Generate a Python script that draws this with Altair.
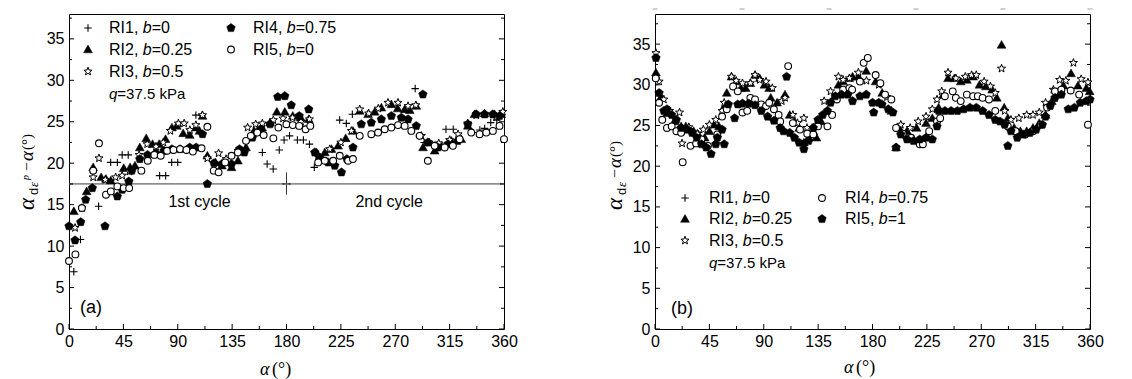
import math
import altair as alt
import pandas as pd

# ---------------- data: panel (a) ----------------
A_RI1 = [(4, 6.9), (9.5, 10.8), (24.5, 14.8), (34.5, 20.1), (40, 20.1), (44, 21.0), (49, 21.0),
         (75, 18.5), (80, 18.5), (85, 20.1), (90, 20.1), (105, 25.8), (110, 25.8), (160, 21.3),
         (164, 19.9), (169, 19.3), (174, 21.6), (178, 22.8), (182.5, 23.3), (189, 22.8), (194, 22.8),
         (199, 22.3), (203, 19.5), (224, 25.2), (229.5, 24.8), (234.5, 25.9), (286.5, 29.0), (290, 23.3),
         (294, 22.5), (297, 22.5), (312, 24.1), (318, 24.1), (334, 23.7), (340, 24.0), (344, 24.2),
         (349, 24.9), (354, 25.2)]
A_RI2 = [(4, 14.2), (14.6, 16.6), (20, 19.5), (26.6, 18.3), (30.6, 18.1), (34.6, 17.9), (45.3, 19.4),
         (50.6, 19.5), (54.6, 19.7), (58.6, 21.9), (63.9, 23.0), (69.2, 22.3), (74.6, 22.3), (79.9, 22.9),
         (85.2, 24.3), (89.2, 24.5), (94.5, 23.6), (99.9, 23.4), (105.2, 24.3), (108, 23.9), (110.5, 25.7),
         (114.5, 20.9), (121.2, 20.1), (126.5, 19.7), (134.5, 19.5), (139.8, 20.3), (146.5, 21.9),
         (153.1, 23.9), (159.8, 24.3), (166.4, 24.9), (172, 26.2), (178.6, 26.2), (185.2, 25.7),
         (191.8, 25.5), (198.4, 25.3), (204.8, 21.3), (211.7, 21.3), (217.2, 21.7), (222.7, 22.1),
         (229, 23.0), (235, 23.9), (240.6, 26.3), (247.5, 25.9), (253, 26.2), (258.5, 26.7), (266.8, 27.1),
         (272, 26.6), (277.8, 26.5), (282, 26.4), (287.4, 26.9), (293, 21.9), (302.6, 21.5), (308.1, 22.1),
         (316.4, 22.7), (324.6, 22.9), (330.1, 24.5), (335.6, 25.9), (343.9, 26.0), (352.2, 25.9),
         (357.7, 25.9)]
A_RI3 = [(5, 12.2), (10.7, 14.6), (20, 18.3), (24.8, 20.6), (30, 18.0), (38.6, 18.3), (44, 18.5),
         (50, 19.0), (58, 21.0), (64.7, 22.3), (72, 22.0), (78, 22.5), (83.9, 23.9), (90.5, 24.8),
         (95.3, 24.8), (100, 24.0), (105, 24.6), (110.5, 25.8), (114.5, 20.6), (123.8, 21.2), (130, 20.5),
         (140, 21.5), (147.8, 24.3), (154.5, 24.7), (160, 24.8), (169.1, 25.2), (177.1, 25.4), (185, 25.5),
         (192, 25.0), (199, 25.3), (206, 20.8), (215.8, 21.7), (225, 22.5), (233.7, 23.9), (240.6, 26.5),
         (248, 26.0), (256, 26.6), (264, 27.3), (272.3, 27.3), (280.6, 26.9), (287, 27.0), (291.6, 23.3),
         (298, 22.5), (306, 22.4), (315, 22.8), (322, 23.5), (330, 24.8), (337, 25.8), (344, 25.9),
         (353.6, 25.6), (359, 26.2)]
A_RI4 = [(0, 12.4), (5, 10.7), (9.7, 12.9), (13.8, 15.6), (19.3, 17.0), (29.8, 12.4), (40, 16.0),
         (44, 16.8), (49.5, 17.8), (52, 19.1), (58.6, 20.5), (65, 21.0), (72, 21.2), (78.6, 21.5),
         (85.2, 21.7), (91.9, 21.7), (99.9, 21.9), (105.2, 21.9), (110.5, 23.5), (114.5, 17.5), (120, 20.0),
         (126.5, 19.9), (134.5, 19.9), (141.1, 21.7), (145.1, 21.3), (151.8, 23.1), (158.5, 24.1),
         (166.4, 24.7), (172.8, 28.0), (178.6, 28.1), (183.9, 27.0), (190.5, 25.7), (198.4, 26.5),
         (203.4, 21.3), (207.5, 20.7), (214.4, 20.1), (219.9, 19.7), (225.5, 18.9), (230, 20.5), (235, 21.9),
         (241.9, 24.7), (250.2, 24.9), (258.5, 25.3), (266.8, 25.7), (275, 25.5), (280.6, 25.3),
         (287.4, 24.5), (292.9, 28.3), (297, 22.5), (305.3, 21.9), (313.6, 22.3), (321.9, 22.7),
         (330.1, 24.7), (337, 25.9), (343.9, 25.9), (350.8, 25.9), (356.3, 25.7)]
A_RI5 = [(0, 8.2), (5.3, 9.0), (10.7, 14.6), (20, 19.1), (24.8, 22.4), (30.6, 16.2), (34.6, 16.6),
         (40, 17.2), (45.3, 17.0), (49.8, 17.0), (59.9, 19.1), (65.2, 20.3), (70.6, 21.0), (75.9, 20.9),
         (81.2, 21.5), (86.5, 21.6), (91.9, 21.7), (97.2, 21.6), (102.5, 21.4), (109.7, 21.8), (114.5, 24.4),
         (119.8, 19.1), (123.8, 18.9), (129.2, 20.1), (134.5, 20.9), (139.8, 21.3), (146.5, 22.7),
         (150.5, 23.3), (155.8, 23.7), (161.1, 23.4), (169.1, 23.0), (173.3, 24.3), (179.9, 24.7),
         (185.2, 24.6), (190.5, 24.5), (195.8, 24.1), (199.7, 24.5), (206.2, 20.1), (211.7, 20.3),
         (218.6, 20.3), (224.1, 20.9), (231, 20.3), (235, 20.5), (240.6, 23.3), (250.2, 23.5), (255.8, 23.7),
         (261.3, 24.1), (266.8, 24.3), (272.3, 24.6), (277.8, 24.5), (283.3, 23.9), (290.2, 23.3),
         (297, 20.3), (302.6, 22.1), (310.9, 21.9), (317.7, 22.1), (323.3, 22.9), (332.9, 23.7),
         (339.8, 23.5), (345.3, 23.7), (350.8, 23.9), (356.3, 24.5), (360, 22.9)]

# ---------------- data: panel (b) ----------------
B_RI2 = [(0.8, 31.5), (5, 28.5), (10, 26.5), (16, 25.5), (21.6, 24.9), (25.5, 24.9), (28.1, 24.7),
         (32, 24.3), (35.9, 23.9), (41.1, 23.5), (45, 24.3), (49, 25.1), (52.9, 24.9), (56.8, 27.2),
         (59.4, 29.0), (63.3, 31.0), (67.2, 30.4), (71.1, 29.6), (75, 29.6), (78.9, 30.2), (82.8, 31.2),
         (86.7, 30.8), (90.6, 30.0), (94.5, 29.6), (95.8, 28.4), (101, 27.8), (107.6, 28.8), (111.5, 26.3),
         (115.4, 25.5), (119.3, 24.7), (123.2, 22.9), (127.1, 23.5), (131, 24.3), (133.6, 23.5),
         (137.5, 25.5), (142.7, 26.8), (147.9, 28.4), (151.8, 30.0), (155.7, 30.4), (160.9, 30.8),
         (163.5, 31.0), (168.3, 31.0), (174.8, 31.7), (182.6, 30.4), (188, 29.0), (195.6, 26.8),
         (199.5, 22.3), (202.1, 24.7), (208.6, 24.3), (216.5, 24.7), (224.3, 25.3), (229.5, 25.9),
         (234.7, 27.2), (238.6, 28.8), (242.5, 30.8), (247.7, 30.8), (253, 30.4), (258.1, 30.6),
         (263.3, 31.0), (268.5, 30.0), (273.8, 29.8), (279, 29.4), (282.9, 28.4), (286.8, 34.9),
         (289, 27.2), (292, 25.9), (297.2, 24.7), (302.4, 24.3), (307.6, 24.3), (312.8, 24.7), (318, 25.3),
         (323.2, 26.3), (328.4, 28.0), (333.6, 29.0), (338, 29.9), (344.3, 31.4), (350, 29.9), (357, 29.6),
         (359.7, 29.2)]
B_RI3 = [(0.8, 33.9), (3.4, 30.4), (7.3, 28.2), (12, 26.8), (20.3, 26.6), (22.4, 22.8), (28, 24.8),
         (35, 24.0), (40, 24.5), (45, 25.1), (50.3, 25.7), (55.5, 26.8), (57.3, 27.8), (63.3, 31.0),
         (67.2, 30.5), (72.4, 30.2), (78.9, 30.2), (82.8, 31.2), (86.7, 30.6), (91.9, 30.4), (97.1, 29.6),
         (104.9, 28.0), (107.6, 28.4), (114.1, 26.3), (117.9, 25.3), (123.2, 25.9), (125.8, 24.7),
         (133, 25.0), (140, 28.0), (145.3, 29.2), (151.8, 31.0), (155.7, 30.6), (160.9, 30.8),
         (168.3, 31.5), (175, 30.5), (185.2, 30.0), (192, 28.5), (203.4, 25.1), (211.2, 24.7),
         (217.8, 25.5), (224.3, 26.1), (229.5, 27.0), (233.4, 28.2), (237.3, 29.2), (242.5, 31.5),
         (249, 30.8), (256.8, 31.0), (262, 31.2), (265.9, 31.2), (272.4, 30.4), (277.6, 29.8),
         (281.6, 29.0), (286.8, 32.0), (289.4, 26.8), (294.6, 25.7), (301.1, 25.9), (307.6, 26.3),
         (312.8, 26.3), (318, 26.6), (323.2, 27.8), (329.7, 29.4), (334.9, 30.6), (340, 30.5),
         (346.3, 32.7), (352.7, 30.7), (358.3, 30.3)]
B_RI4 = [(0.6, 30.8), (3.4, 27.8), (6, 25.7), (9.9, 24.7), (13.8, 24.9), (17.7, 24.3), (21.6, 24.1),
         (22.9, 20.5), (29.4, 22.5), (34, 22.8), (38.5, 23.3), (43.8, 22.5), (51.6, 23.9), (55.5, 26.1),
         (59.4, 27.0), (64.6, 29.8), (68.5, 29.2), (72.4, 26.6), (76.3, 26.8), (78.9, 28.4), (82.8, 28.2),
         (88, 27.6), (91.9, 27.4), (94.5, 27.8), (98.4, 27.0), (102.3, 26.3), (103.6, 25.5), (110.2, 32.3),
         (114.1, 25.3), (120, 24.5), (126, 24.0), (131, 23.9), (134.9, 24.9), (142.7, 24.9), (146.6, 26.3),
         (150.5, 28.2), (155.7, 29.4), (160.9, 29.6), (163.1, 29.4), (169.6, 30.4), (172.7, 32.7),
         (176.1, 33.3), (182.6, 31.2), (186.5, 30.2), (190.4, 28.8), (195.6, 28.2), (199.5, 24.7),
         (205, 24.0), (212, 23.5), (219.1, 22.7), (221.7, 22.7), (226.9, 24.3), (233.4, 25.5), (236, 25.9),
         (239.9, 28.6), (246.4, 29.2), (249, 28.4), (253, 28.0), (258.1, 28.8), (263.3, 28.6),
         (267.2, 28.6), (271.1, 28.4), (276.4, 28.2), (281.6, 26.8), (292, 24.9), (298.5, 24.3),
         (306.3, 23.9), (312.8, 24.3), (319.3, 25.1), (324.5, 27.2), (331, 29.2), (336.3, 29.4),
         (344, 29.3), (351, 28.8), (358.3, 25.1)]
B_RI5 = [(0.8, 33.3), (3.4, 29.0), (7.3, 26.8), (9.9, 27.0), (13.8, 26.3), (17.7, 25.7), (21.6, 24.7),
         (26.8, 24.5), (30.7, 24.1), (34.6, 23.5), (38.5, 22.7), (42.4, 22.3), (46.4, 21.5), (50.3, 22.7),
         (51.6, 23.5), (55.5, 24.5), (57.3, 22.7), (60.7, 27.6), (65.9, 25.9), (68.5, 27.6), (72.4, 27.7),
         (77.6, 27.7), (82.8, 27.5), (88, 26.8), (93.2, 26.1), (98.4, 25.6), (103.6, 24.7), (106.3, 24.3),
         (108.9, 31.0), (111.5, 24.1), (115.4, 23.5), (119.3, 22.9), (123.2, 22.1), (127.1, 23.1),
         (131, 24.7), (134.9, 25.7), (138.8, 26.3), (142.7, 26.8), (145.3, 27.8), (149.2, 28.6),
         (154.4, 28.8), (159.6, 28.8), (163.5, 28.0), (169.6, 28.6), (174.8, 28.8), (180, 27.8),
         (181, 26.6), (185.2, 27.8), (187.8, 27.6), (193, 27.0), (196.9, 26.6), (199.5, 22.3),
         (203.4, 23.9), (208.6, 23.3), (213.9, 23.1), (219.1, 23.3), (224.3, 23.5), (229.5, 23.3),
         (233.4, 24.9), (234.7, 26.8), (239.9, 26.8), (245.1, 26.8), (250.3, 26.8), (255.5, 27.0),
         (260.7, 27.2), (265.9, 27.2), (271.1, 26.8), (276.4, 26.3), (281.6, 25.7), (285.5, 25.5),
         (289.4, 25.1), (292, 22.5), (294.6, 24.3), (299.8, 23.5), (305, 23.9), (310.2, 24.1),
         (315.4, 24.5), (320.6, 25.1), (323.2, 26.1), (327.1, 27.4), (331, 28.4), (336.3, 28.8),
         (342, 27.0), (347, 27.2), (352, 27.8), (357, 28.0), (360, 28.2)]

# ---------------- labels / ticks ----------------
X_MAJOR = [0, 45, 90, 135, 180, 225, 270, 315, 360]
X_MINOR = [22.5, 67.5, 112.5, 157.5, 202.5, 247.5, 292.5, 337.5]
Y_MAJOR = [0, 5, 10, 15, 20, 25, 30, 35]
Y_MINOR = [2.5, 7.5, 12.5, 17.5, 22.5, 27.5, 32.5, 37.5]
TOP_DASH = [0, 72, 144, 216, 288, 360]
LEG_NAMES = ["RI1, ", "RI2, ", "RI3, ", "RI4, ", "RI5, "]
LEG_B_A = ["=0", "=0.25", "=0.5", "=0.75", "=0"]
LEG_B_B = ["=0", "=0.25", "=0.5", "=0.75", "=1"]
Q_TEXT = "=37.5 kPa"
CYCLE_ALPHA = [0, 180, 360]
CYCLE_LEVEL = 17.5
CYCLE_TICK = [16.2, 18.9]
CYCLE_TEXT = ["1st cycle", "2nd cycle"]
CYCLE_TEXT_ALPHA = [108, 265]
CYCLE_TEXT_LEVEL = 15.3

# ---------------- styles ----------------
def poly_path(n, r_out, r_in=None, rot=-math.pi / 2):
    pts = []
    k = n * 2 if r_in else n
    for i in range(k):
        r = r_out if (r_in is None or i % 2 == 0) else r_in
        a = rot + i * 2 * math.pi / k
        pts.append((r * math.cos(a), r * math.sin(a)))
    return "M" + "L".join(f"{x:.3f},{y:.3f}" for x, y in pts) + "Z"

PLUS = "M-1,0L1,0M0,-1L0,1"
TRI = "M0,-1L1,0.75L-1,0.75Z"
STAR = poly_path(5, 1.0, 0.42)
PENT = poly_path(5, 1.0)
ARROW_R = "M0,0L-2,-0.55L-2,0.55Z"
ARROW_L = "M0,0L2,-0.55L2,0.55Z"

STYLE = {
    "plus": dict(shape=PLUS, size=56, filled=False, stroke="black", strokeWidth=1.1),
    "tri": dict(shape=TRI, size=78, filled=True, fill="black", stroke="black", strokeWidth=0.5),
    "star": dict(shape=STAR, size=72, filled=True, fill="white", stroke="black", strokeWidth=1),
    "pent": dict(shape=PENT, size=80, filled=True, fill="black", stroke="black", strokeWidth=0.5),
    "circ": dict(shape="circle", size=46, filled=True, fill="white", stroke="black", strokeWidth=1.1),
}

SANS = "Liberation Sans"
SERIF = "Liberation Serif"
W, H = 435, 315
ONE = pd.DataFrame({"k": [0]})


def pts_df(pairs):
    return pd.DataFrame(pairs, columns=["alpha", "value"])


def txt(x, y, s, size=16, font=SANS, style="normal", angle=0, align="left"):
    kw = dict(align=align, baseline="middle", font=font, fontSize=size, fontStyle=style,
              color="black", text=s)
    if angle:
        kw["angle"] = angle
    return alt.Chart(ONE).mark_text(**kw).encode(x=alt.value(x), y=alt.value(y))


def sym(x, y, key):
    st = dict(STYLE[key])
    return alt.Chart(ONE).mark_point(opacity=1, **st).encode(x=alt.value(x), y=alt.value(y))


def panel(series, ymax, legend, tag, ytitle, extras):
    xs = alt.Scale(domain=[0, 360], nice=False, zero=False)
    ys = alt.Scale(domain=[0, ymax], nice=False, zero=False)
    xax = alt.Axis(values=X_MAJOR, ticks=False, domain=False, grid=False, title=None,
                   labelFont=SANS, labelFontSize=16, labelColor="black", labelPadding=4,
                   labelFlush=False)
    yax = alt.Axis(values=Y_MAJOR, ticks=False, domain=False, grid=False, title=None,
                   labelFont=SANS, labelFontSize=16, labelColor="black", labelPadding=5)
    X = lambda f: alt.X(f, type="quantitative", scale=xs, axis=xax)
    Y = lambda f: alt.Y(f, type="quantitative", scale=ys, axis=yax)

    layers = []
    for vals, ln in ((X_MAJOR, 5), (X_MINOR, 3)):
        d = pd.DataFrame({"t": vals})
        layers.append(alt.Chart(d).mark_rule(color="black", strokeWidth=1).encode(
            x=X("t"), y=alt.value(H), y2=alt.value(H - ln)))
    for vals, ln in ((Y_MAJOR, 5), (Y_MINOR, 3)):
        d = pd.DataFrame({"t": vals})
        layers.append(alt.Chart(d).mark_rule(color="black", strokeWidth=1).encode(
            y=Y("t"), x=alt.value(0), x2=alt.value(ln)))
        layers.append(alt.Chart(d).mark_rule(color="black", strokeWidth=1).encode(
            y=Y("t"), x=alt.value(W), x2=alt.value(W - ln)))

    layers += extras(X, Y)

    for pairs, key in series:
        st = dict(STYLE[key])
        layers.append(alt.Chart(pts_df(pairs)).mark_point(opacity=1, **st).encode(
            x=X("alpha"), y=Y("value")))

    layers += legend
    layers.append(txt(tag[0], tag[1], tag[2], size=18))
    layers += ytitle
    return alt.layer(*layers).properties(width=W, height=H)


def legend_block(x_sym_l, x_txt_l, x_sym_r, x_txt_r, rows, keys, bvals):
    out = []
    cols = [(x_sym_l, x_txt_l, 0, rows[0]), (x_sym_l, x_txt_l, 1, rows[1]), (x_sym_l, x_txt_l, 2, rows[2]),
            (x_sym_r, x_txt_r, 3, rows[0]), (x_sym_r, x_txt_r, 4, rows[1])]
    for xs_, xt, i, y in cols:
        out.append(sym(xs_, y, keys[i]))
        out.append(txt(xt, y, LEG_NAMES[i]))
        out.append(txt(xt + 33.8, y, "b", style="italic"))
        out.append(txt(xt + 42.7, y, bvals[i]))
    out.append(txt(x_txt_l, rows[3], "q", size=15, style="italic"))
    out.append(txt(x_txt_l + 8.3, rows[3], Q_TEXT, size=15))
    return out


def xtitle(xa, y):
    return [txt(xa, y, "α", size=18, font=SERIF, style="italic"),
            txt(xa + 12, y, "(°)", size=18, font=SERIF)]


# ---------- panel (a) ----------
def extras_a(X, Y):
    seg = pd.DataFrame({"a": CYCLE_ALPHA[:1], "b": CYCLE_ALPHA[2:], "v": [CYCLE_LEVEL]})
    out = [alt.Chart(seg).mark_rule(color="#3a3a3a", strokeWidth=1).encode(
        x=X("a"), x2="b", y=Y("v"))]
    tick = pd.DataFrame({"a": [CYCLE_ALPHA[1]], "v1": [CYCLE_TICK[0]], "v2": [CYCLE_TICK[1]]})
    out.append(alt.Chart(tick).mark_rule(color="#3a3a3a", strokeWidth=1).encode(
        x=X("a"), y=Y("v1"), y2="v2"))
    heads_l = pd.DataFrame({"a": [CYCLE_ALPHA[0], CYCLE_ALPHA[1]], "v": [CYCLE_LEVEL] * 2})
    heads_r = pd.DataFrame({"a": [CYCLE_ALPHA[1], CYCLE_ALPHA[2]], "v": [CYCLE_LEVEL] * 2})
    out.append(alt.Chart(heads_l).mark_point(shape=ARROW_L, size=16, filled=True, color="#3a3a3a",
                                             opacity=1).encode(x=X("a"), y=Y("v")))
    out.append(alt.Chart(heads_r).mark_point(shape=ARROW_R, size=16, filled=True, color="#3a3a3a",
                                             opacity=1).encode(x=X("a"), y=Y("v")))
    lab = pd.DataFrame({"a": CYCLE_TEXT_ALPHA, "v": [CYCLE_TEXT_LEVEL] * 2, "s": CYCLE_TEXT})
    out.append(alt.Chart(lab).mark_text(font=SANS, fontSize=16, color="black", baseline="middle").encode(
        x=X("a"), y=Y("v"), text="s:N"))
    return out


ytitle_a = [
    txt(-42, 196, "α", size=23, font=SERIF, style="italic", angle=270),
    txt(-35, 181, "d", size=13, font=SANS, angle=270),
    txt(-35, 173, "ε", size=13, font=SERIF, style="italic", angle=270),
    txt(-43, 166, "p", size=10, font=SERIF, style="italic", angle=270),
    txt(-42, 157, "−", size=16, font=SERIF, angle=270),
    txt(-42, 147, "α", size=19, font=SERIF, style="italic", angle=270),
    txt(-42, 136, "(°)", size=15, font=SERIF, angle=270),
] + xtitle(191, 356)

leg_a = legend_block(19, 40, 162, 184, [14, 35.5, 57.5, 80],
                     ["plus", "tri", "star", "pent", "circ"], LEG_B_A)
panel_a = panel(
    [(A_RI1, "plus"), (A_RI2, "tri"), (A_RI3, "star"), (A_RI4, "pent"), (A_RI5, "circ")],
    38.0, leg_a, (11, 294, "(a)"), ytitle_a, extras_a)


# ---------- panel (b) ----------
def extras_b(X, Y):
    d = pd.DataFrame({"a": TOP_DASH})
    return [alt.Chart(d).mark_tick(orient="horizontal", size=5, thickness=1, color="#777777").encode(
        x=X("a"), y=alt.value(-5))]


ytitle_b = [
    txt(-40, 196, "α", size=23, font=SERIF, style="italic", angle=270),
    txt(-33, 181, "d", size=13, font=SANS, angle=270),
    txt(-33, 173, "ε", size=13, font=SERIF, style="italic", angle=270),
    txt(-40, 164, "−", size=16, font=SERIF, angle=270),
    txt(-40, 154, "α", size=19, font=SERIF, style="italic", angle=270),
    txt(-40, 143, "(°)", size=15, font=SERIF, angle=270),
] + xtitle(189, 354)

leg_b = legend_block(30, 54, 167, 190, [184, 205, 226.5, 249],
                     ["plus", "tri", "star", "circ", "pent"], LEG_B_B)
panel_b = panel(
    [(B_RI2, "tri"), (B_RI3, "star"), (B_RI4, "circ"), (B_RI5, "pent")],
    38.7, leg_b, (16, 295, "(b)"), ytitle_b, extras_b)

chart = alt.hconcat(panel_a, panel_b, spacing=151, bounds="flush").properties(
    padding={"left": 15, "top": 8, "right": 0, "bottom": 0},
    background="white",
).configure_view(stroke="black", strokeWidth=1)

chart.save("out.html", embed_options={"renderer": "svg", "actions": False})
